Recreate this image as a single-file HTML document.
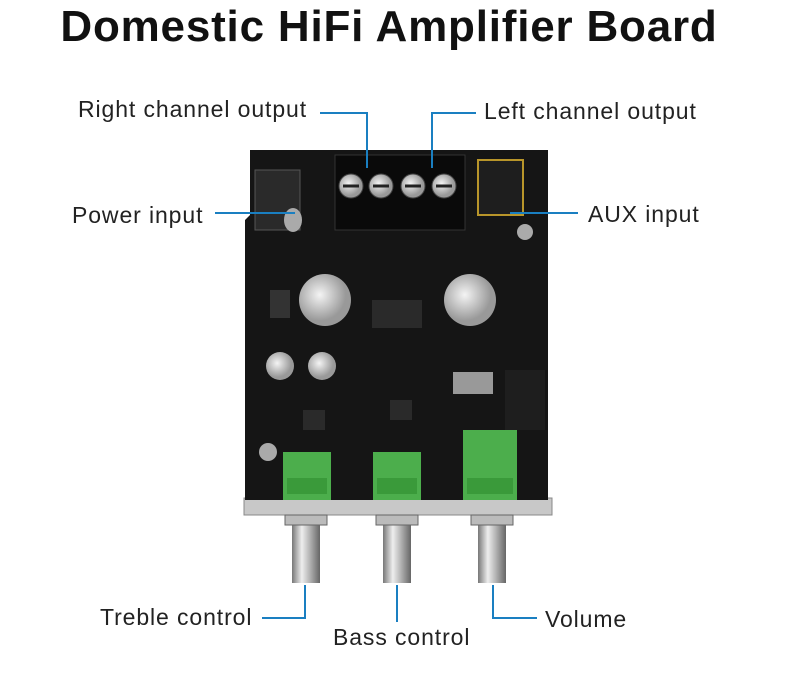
<!DOCTYPE html>
<html><head><meta charset="utf-8"><style>
html,body{margin:0;padding:0;background:#fff;}
body{width:798px;height:676px;overflow:hidden;position:relative;font-family:"Liberation Sans",sans-serif;}
.t{position:absolute;font-size:23px;color:#222;letter-spacing:0.9px;white-space:nowrap;}
h1{position:absolute;left:0;width:778px;top:2px;margin:0;text-align:center;font-size:44px;letter-spacing:0.8px;font-weight:bold;color:#111;}
</style></head><body>
<h1>Domestic HiFi Amplifier Board</h1>
<svg width="798" height="676" style="position:absolute;left:0;top:0">
<defs>
<linearGradient id="sh" x1="0" x2="1"><stop offset="0" stop-color="#777"/><stop offset="0.35" stop-color="#eee"/><stop offset="0.6" stop-color="#bbb"/><stop offset="1" stop-color="#666"/></linearGradient>
<radialGradient id="cap" cx="0.4" cy="0.4"><stop offset="0" stop-color="#f4f4f4"/><stop offset="1" stop-color="#999"/></radialGradient>
</defs>
<rect x="244" y="498" width="308" height="17" fill="#c8c8c8" stroke="#888"/>
<path d="M250 150 H548 V500 H245 V220 L250 215 Z" fill="#151515"/>
<rect x="255" y="170" width="45" height="60" fill="#2a2a2a" stroke="#555"/>
<ellipse cx="293" cy="220" rx="9" ry="12" fill="#aaa"/>
<rect x="335" y="155" width="130" height="75" fill="#0a0a0a" stroke="#333"/>
<g fill="url(#cap)" stroke="#444">
<circle cx="351" cy="186" r="12"/><circle cx="381" cy="186" r="12"/><circle cx="413" cy="186" r="12"/><circle cx="444" cy="186" r="12"/></g>
<g stroke="#222" stroke-width="3"><line x1="343" y1="186" x2="359" y2="186"/><line x1="373" y1="186" x2="389" y2="186"/><line x1="405" y1="186" x2="421" y2="186"/><line x1="436" y1="186" x2="452" y2="186"/></g>
<rect x="478" y="160" width="45" height="55" fill="#1e1e1e" stroke="#b8952a" stroke-width="2"/>
<circle cx="325" cy="300" r="26" fill="url(#cap)"/>
<circle cx="470" cy="300" r="26" fill="url(#cap)"/>
<circle cx="280" cy="366" r="14" fill="url(#cap)"/>
<circle cx="322" cy="366" r="14" fill="url(#cap)"/>
<circle cx="268" cy="452" r="9" fill="#aaa"/>
<circle cx="525" cy="232" r="8" fill="#aaa"/>
<rect x="270" y="290" width="20" height="28" fill="#333"/>
<rect x="372" y="300" width="50" height="28" fill="#2a2a2a"/>
<rect x="453" y="372" width="40" height="22" fill="#999"/>
<rect x="303" y="410" width="22" height="20" fill="#2a2a2a"/>
<rect x="390" y="400" width="22" height="20" fill="#2a2a2a"/>
<rect x="505" y="370" width="40" height="60" fill="#1e1e1e"/>
<rect x="283" y="452" width="48" height="48" fill="#4cae4c"/>
<rect x="373" y="452" width="48" height="48" fill="#4cae4c"/>
<rect x="463" y="430" width="54" height="70" fill="#4cae4c"/>
<g fill="#3a9a3a"><rect x="287" y="478" width="40" height="16"/><rect x="377" y="478" width="40" height="16"/><rect x="467" y="478" width="46" height="16"/></g>
<rect x="292" y="515" width="28" height="68" fill="url(#sh)"/>
<rect x="383" y="515" width="28" height="68" fill="url(#sh)"/>
<rect x="478" y="515" width="28" height="68" fill="url(#sh)"/>
<g fill="#bbb" stroke="#666"><rect x="285" y="515" width="42" height="10"/><rect x="376" y="515" width="42" height="10"/><rect x="471" y="515" width="42" height="10"/></g>
<g stroke="#1a7fc1" stroke-width="2" fill="none">
<polyline points="320,113 367,113 367,168"/>
<polyline points="476,113 432,113 432,168"/>
<line x1="215" y1="213" x2="295" y2="213"/>
<line x1="510" y1="213" x2="578" y2="213"/>
<polyline points="262,618 305,618 305,585"/>
<line x1="397" y1="585" x2="397" y2="622"/>
<polyline points="537,618 493,618 493,585"/>
</g>
</svg>
<div class="t" style="left:78px;top:96px">Right channel output</div>
<div class="t" style="left:484px;top:98px">Left channel output</div>
<div class="t" style="left:72px;top:202px">Power input</div>
<div class="t" style="left:588px;top:201px">AUX input</div>
<div class="t" style="left:100px;top:604px">Treble control</div>
<div class="t" style="left:333px;top:624px">Bass control</div>
<div class="t" style="left:545px;top:606px">Volume</div>
</body></html>
